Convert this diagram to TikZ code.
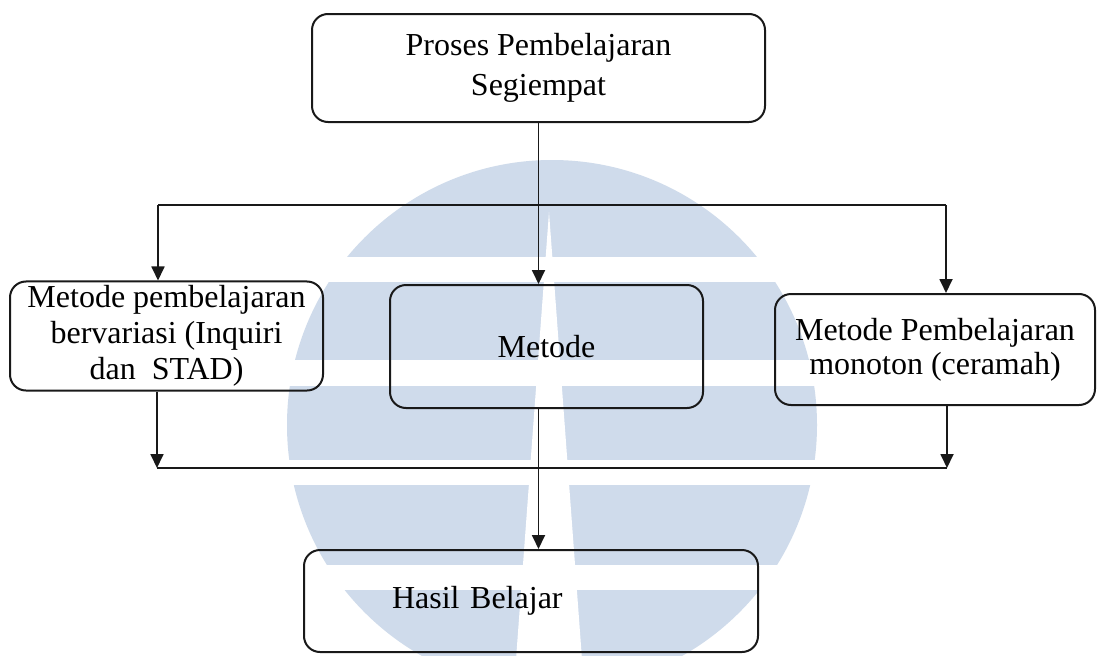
\documentclass[tikz,border=0pt]{standalone}
\usepackage{fontspec}
\setmainfont{Liberation Serif}
\usetikzlibrary{arrows.meta}
\definecolor{wm}{RGB}{207,219,235}
\tikzset{
  box/.style={draw=black!90, line width=2pt, rounded corners=16pt, inner sep=4pt,
    align=center, font=\fontsize{32}{36}\selectfont},
  conn/.style={draw=black!90, line width=1.8pt},
  arr/.style={conn, -{Triangle[length=14pt,width=13pt]}}
}
\begin{document}
\begin{tikzpicture}[x=1pt,y=-1pt]
\useasboundingbox[fill=white] (0,0) rectangle (1098,656);
% watermark
\begin{scope}
  \clip (0,0) rectangle (1098,656);
  \clip (552,425) circle[radius=265];
  \fill[wm] (280,150) rectangle (830,257);
  \fill[wm] (280,282) rectangle (830,360);
  \fill[wm] (280,386) rectangle (830,460);
  \fill[wm] (280,485) rectangle (830,565);
  \fill[wm] (280,590) rectangle (830,700);
  \fill[white] (549,212) -- (513,700) -- (585,700) -- cycle;
\end{scope}
% boxes
\node[box, minimum width=453pt, minimum height=108pt, font=\fontsize{32}{40}\selectfont] (top) at (538.5,68) {Proses Pembelajaran\\Segiempat};
\node[box, minimum width=313pt, minimum height=106pt] (left) at (166.5,336) {Metode pembelajaran\\bervariasi (Inquiri\\dan\ \ STAD)};
\node[box, minimum width=313pt, minimum height=123pt] (metode) at (546.5,346.5) {Metode};
\node[box, minimum width=320pt, minimum height=111pt, font=\fontsize{32}{34}\selectfont] (right) at (935,349.5) {Metode Pembelajaran\\monoton (ceramah)};
\node[box, minimum width=454pt, minimum height=102pt, inner xsep=88pt, text width=278pt, align=left] (hasil) at (531,601) {Hasil Belajar};
% connectors
\coordinate (jl) at (158,205);
\coordinate (jr) at (946,205);
\coordinate (bl) at (157,468);
\coordinate (br) at (947,468);
\draw[arr] (top.south) -- (top.south |- metode.north);
\draw[conn] (jl) -- (jr);
\draw[arr] (jl) -- (jl |- left.north);
\draw[arr] (jr) -- (jr |- right.north);
\draw[arr] (left.south -| bl) -- (bl);
\draw[arr] (right.south -| br) -- (br);
\draw[conn] (bl) -- (br);
\draw[arr] (top.south |- metode.south) -- (top.south |- hasil.north);
\end{tikzpicture}
\end{document}
